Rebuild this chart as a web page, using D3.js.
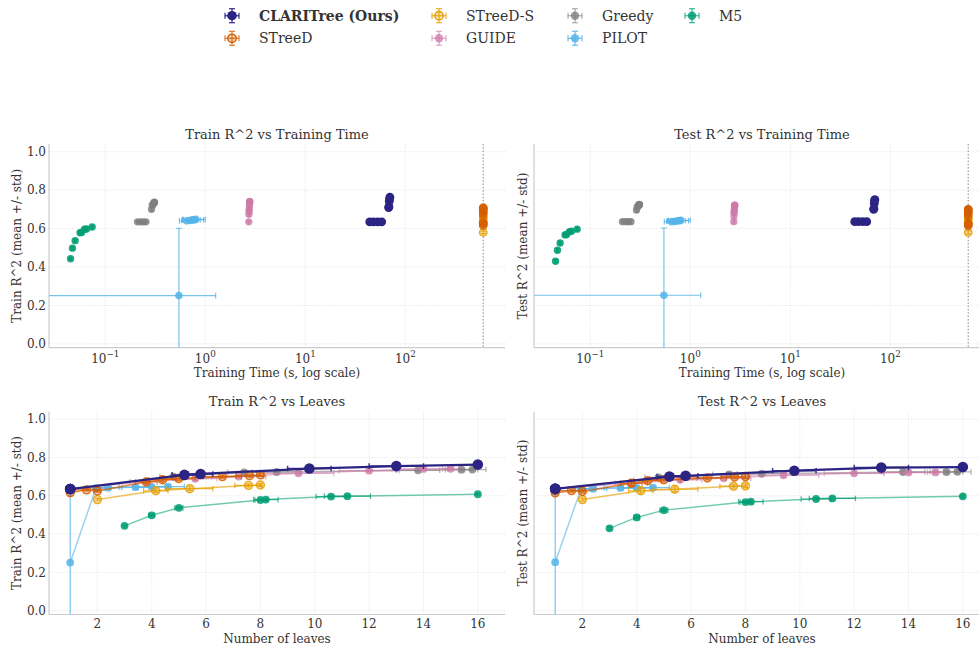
<!DOCTYPE html>
<html>
<head>
<meta charset="utf-8">
<script src="https://cdn.jsdelivr.net/npm/d3@7"></script>
<style>
  body { margin: 0; background: #fff; }
  svg { display: block; }
  text { font-family: "DejaVu Serif", serif; fill: #333; }
</style>
</head>
<body>
<svg id="chart" width="979" height="650"></svg>
<script>
// Row layout: [leaves, leavesStd, timeSec, timeStd, trainR2, trainStd, testR2, testStd]
const clariTree = [
  [1, 0, 44, 1.5, 0.635, 0.004, 0.636, 0.006],
  [1, 0, 48, 1.5, 0.635, 0.004, 0.636, 0.006],
  [1, 0, 53, 1.5, 0.635, 0.004, 0.636, 0.006],
  [1, 0, 58, 1.5, 0.635, 0.004, 0.636, 0.006],
  [5.2, 0.45, 68, 1.5, 0.709, 0.008, 0.700, 0.010],
  [5.8, 0.45, 68.5, 1.5, 0.714, 0.008, 0.704, 0.010],
  [9.8, 0.8, 69, 1.5, 0.742, 0.006, 0.731, 0.010],
  [13.0, 1.0, 69.5, 1.5, 0.755, 0.006, 0.747, 0.008],
  [16, 0, 70, 1.5, 0.763, 0.005, 0.750, 0.008]
];
const streeD = [
  [1, 0, 600, 0, 0.616, 0.005, 0.615, 0.008],
  [1.6, 0.5, 600, 0, 0.631, 0.006, 0.627, 0.008],
  [2, 0, 600, 0, 0.625, 0.006, 0.622, 0.008],
  [3.8, 0.4, 600, 0, 0.672, 0.010, 0.665, 0.012],
  [4.4, 0.5, 600, 0, 0.684, 0.010, 0.679, 0.012],
  [5.0, 0.6, 600, 0, 0.690, 0.010, 0.684, 0.012],
  [6.6, 0.7, 600, 0, 0.700, 0.008, 0.693, 0.010],
  [7.6, 0.5, 600, 0, 0.705, 0.008, 0.698, 0.010],
  [8, 0, 600, 0, 0.709, 0.008, 0.700, 0.010]
];
const streeDS = [
  [2, 0, 600, 0, 0.580, 0.006, 0.580, 0.008],
  [4.15, 0.45, 600, 0, 0.626, 0.010, 0.626, 0.012],
  [5.4, 0.85, 600, 0, 0.637, 0.010, 0.634, 0.012],
  [7.56, 0.5, 600, 0, 0.654, 0.008, 0.650, 0.010],
  [8, 0, 600, 0, 0.656, 0.008, 0.652, 0.010]
];
const guide = [
  [1, 0, 2.72, 0.04, 0.635, 0.004, 0.636, 0.006],
  [3.8, 0.6, 2.73, 0.04, 0.674, 0.010, 0.665, 0.012],
  [5.6, 0.8, 2.74, 0.04, 0.689, 0.010, 0.683, 0.012],
  [7.2, 1.0, 2.75, 0.04, 0.700, 0.008, 0.691, 0.010],
  [9.4, 1.3, 2.76, 0.04, 0.717, 0.008, 0.707, 0.010],
  [12.0, 1.1, 2.77, 0.04, 0.731, 0.006, 0.717, 0.008],
  [14.0, 0.9, 2.78, 0.04, 0.740, 0.006, 0.722, 0.008],
  [15.0, 0.3, 2.78, 0.04, 0.741, 0.006, 0.722, 0.008]
];
const greedy = [
  [1, 0, 0.21, 0.004, 0.635, 0.004, 0.636, 0.006],
  [1, 0, 0.225, 0.004, 0.635, 0.004, 0.636, 0.006],
  [1, 0, 0.24, 0.004, 0.635, 0.004, 0.636, 0.006],
  [1, 0, 0.255, 0.004, 0.635, 0.004, 0.636, 0.006],
  [4.8, 0.5, 0.29, 0.005, 0.700, 0.008, 0.696, 0.010],
  [7.4, 0.6, 0.295, 0.005, 0.722, 0.008, 0.712, 0.010],
  [8.6, 0.9, 0.30, 0.005, 0.724, 0.008, 0.715, 0.010],
  [13.8, 0.8, 0.305, 0.005, 0.733, 0.006, 0.724, 0.008],
  [15.4, 0.6, 0.31, 0.005, 0.736, 0.006, 0.724, 0.008],
  [15.8, 0.5, 0.31, 0.005, 0.737, 0.006, 0.725, 0.008]
];
const pilot = [
  [1, 0, 0.545, 0.725, 0.251, 0.35, 0.253, 0.35],
  [1.95, 0.3, 0.65, 0.10, 0.640, 0.006, 0.636, 0.008],
  [2.4, 0.5, 0.70, 0.12, 0.642, 0.006, 0.637, 0.008],
  [3.4, 0.6, 0.74, 0.15, 0.645, 0.006, 0.641, 0.008],
  [4.0, 0.5, 0.78, 0.18, 0.646, 0.006, 0.641, 0.008],
  [4.6, 0.6, 0.80, 0.20, 0.648, 0.006, 0.643, 0.008]
];
const m5 = [
  [3, 0, 0.045, 0.001, 0.443, 0.005, 0.430, 0.008],
  [4, 0.1, 0.047, 0.001, 0.498, 0.006, 0.487, 0.008],
  [5, 0.15, 0.050, 0.001, 0.537, 0.006, 0.525, 0.008],
  [8, 0.2, 0.056, 0.001, 0.578, 0.006, 0.567, 0.008],
  [8.2, 0.45, 0.058, 0.001, 0.580, 0.006, 0.569, 0.008],
  [10.6, 0.55, 0.062, 0.001, 0.596, 0.006, 0.583, 0.008],
  [11.2, 0.85, 0.065, 0.001, 0.598, 0.006, 0.586, 0.008],
  [16, 0, 0.074, 0.001, 0.608, 0.005, 0.597, 0.008]
];

const methodNames = ["CLARITree (Ours)", "STreeD", "STreeD-S", "GUIDE", "Greedy", "PILOT", "M5"];
const methodRows = [clariTree, streeD, streeDS, guide, greedy, pilot, m5];
const timeoutSec = 600;
const yTicks = [0, 0.2, 0.4, 0.6, 0.8, 1.0];
const leafTicks = [2, 4, 6, 8, 10, 12, 14, 16];
const timeTicks = [0.1, 1, 10, 100];
const timeTickExp = ["\u22121", "0", "1", "2"];

// Per-method drawing style
const styles = {
  "CLARITree (Ours)": { color: "#2c2483", r: 4.4, rBig: 5.3, fillOp: 1, lineOp: 1, lineW: 2.3, errOp: 0.9, bold: true },
  "STreeD":   { color: "#d55e00", r: 3.7, rBig: 4.0, fillOp: 0.35, strokeOnly: true, lineOp: 0.75, lineW: 1.6, errOp: 0.75 },
  "STreeD-S": { color: "#e69f00", r: 3.7, rBig: 4.0, fillOp: 0.35, strokeOnly: true, lineOp: 0.65, lineW: 1.5, errOp: 0.75 },
  "GUIDE":    { color: "#cc79a7", r: 3.7, rBig: 3.9, fillOp: 0.75, lineOp: 0.55, lineW: 1.5, errOp: 0.6 },
  "Greedy":   { color: "#7f7f7f", r: 3.7, rBig: 3.9, fillOp: 0.8, lineOp: 0.55, lineW: 1.5, errOp: 0.6 },
  "PILOT":    { color: "#56b4e9", r: 3.8, rBig: 3.9, fillOp: 0.85, lineOp: 0.6, lineW: 1.5, errOp: 0.8 },
  "M5":       { color: "#009e73", r: 3.7, rBig: 3.9, fillOp: 0.85, lineOp: 0.55, lineW: 1.5, errOp: 0.7 }
};

const svg = d3.select("#chart");
svg.append("rect").attr("width", 979).attr("height", 650).attr("fill", "#fff");

const yDomain = [-0.02, 1.04];
const panels = [
  { x0: 49,  x1: 505, y0: 144,   y1: 347.7, kind: "time",   metric: 4, title: "Train R^2 vs Training Time", ylab: "Train R^2 (mean +/- std)", showY: true },
  { x0: 534, x1: 990, y0: 144,   y1: 347.7, kind: "time",   metric: 6, title: "Test R^2 vs Training Time",  ylab: "Test R^2 (mean +/- std)",  showY: false },
  { x0: 49,  x1: 505, y0: 411.5, y1: 614.5, kind: "leaves", metric: 4, title: "Train R^2 vs Leaves",        ylab: "Train R^2 (mean +/- std)", showY: true },
  { x0: 534, x1: 990, y0: 411.5, y1: 614.5, kind: "leaves", metric: 6, title: "Test R^2 vs Leaves",         ylab: "Test R^2 (mean +/- std)",  showY: false }
];

const defs = svg.append("defs");
const CAP = 2.8;
const TICK_FONT = "12px";

panels.forEach((p, pi) => {
  const x = p.kind === "time"
    ? d3.scaleLog().domain([0.0274, 990]).range([p.x0, p.x1])
    : d3.scaleLinear().domain([0.22, 17.0]).range([p.x0, p.x1]);
  const y = d3.scaleLinear().domain(yDomain).range([p.y1, p.y0]);
  const g = svg.append("g");

  defs.append("clipPath").attr("id", "clip" + pi)
    .append("rect").attr("x", p.x0).attr("y", p.y0)
    .attr("width", p.x1 - p.x0).attr("height", p.y1 - p.y0);

  // grid
  const grid = g.append("g").attr("stroke", "#dcdcdc").attr("stroke-width", 0.8)
    .attr("stroke-dasharray", "1,1.6");
  yTicks.forEach(t => grid.append("line").attr("x1", p.x0).attr("x2", p.x1)
    .attr("y1", y(t)).attr("y2", y(t)));
  const xt = p.kind === "time" ? timeTicks : leafTicks;
  xt.forEach(t => grid.append("line").attr("x1", x(t)).attr("x2", x(t))
    .attr("y1", p.y0).attr("y2", p.y1));

  // spines
  g.append("line").attr("x1", p.x0).attr("x2", p.x0).attr("y1", p.y0).attr("y2", p.y1)
    .attr("stroke", "#cccccc").attr("stroke-width", 1.2);
  g.append("line").attr("x1", p.x0).attr("x2", p.x1).attr("y1", p.y1).attr("y2", p.y1)
    .attr("stroke", "#cccccc").attr("stroke-width", 1.2);

  // y tick labels
  if (p.showY) {
    yTicks.forEach(t => g.append("text").attr("x", p.x0 - 3).attr("y", y(t)).attr("dy", "0.36em")
      .attr("text-anchor", "end").style("font-size", TICK_FONT).text(d3.format(".1f")(t)));
  }
  // x tick labels
  if (p.kind === "time") {
    timeTicks.forEach((t, i) => {
      const tx = g.append("text").attr("x", x(t)).attr("y", p.y1 + 15)
        .attr("text-anchor", "middle").style("font-size", TICK_FONT);
      tx.append("tspan").text("10");
      tx.append("tspan").attr("dy", -5.5).style("font-size", "8.8px").text(timeTickExp[i]);
    });
  } else {
    leafTicks.forEach(t => g.append("text").attr("x", x(t)).attr("y", p.y1 + 13.5)
      .attr("text-anchor", "middle").style("font-size", TICK_FONT).text(t));
  }
  // axis labels and title
  const cx = (p.x0 + p.x1) / 2;
  g.append("text").attr("x", cx).attr("y", p.y0 - 5.5).attr("text-anchor", "middle")
    .style("font-size", "13px").text(p.title);
  g.append("text").attr("x", cx).attr("y", p.kind === "time" ? p.y1 + 29.5 : p.y1 + 28.5)
    .attr("text-anchor", "middle").style("font-size", "12px")
    .text(p.kind === "time" ? "Training Time (s, log scale)" : "Number of leaves");
  const ylx = p.showY ? 16.7 : p.x0 - 11.5;
  g.append("text").attr("transform", `translate(${ylx},${(p.y0 + p.y1) / 2}) rotate(-90)`)
    .attr("dy", "0.36em").attr("text-anchor", "middle").style("font-size", "12px").text(p.ylab);

  const plot = g.append("g").attr("clip-path", `url(#clip${pi})`);

  if (p.kind === "time") {
    plot.append("line").attr("x1", x(timeoutSec)).attr("x2", x(timeoutSec))
      .attr("y1", p.y0).attr("y2", p.y1).attr("stroke", "#9a9a9a")
      .attr("stroke-width", 1.2).attr("stroke-dasharray", "1.5,1.8");
  }

  const xMin = x.domain()[0];
  // draw from last to first so the highlighted method sits on top
  for (let mi = methodNames.length - 1; mi >= 0; mi--) {
    const st = styles[methodNames[mi]];
    const rows = methodRows[mi];
    const mg = plot.append("g");
    const xv = d => p.kind === "time" ? d[2] : d[0];
    const xs = d => p.kind === "time" ? d[3] : d[1];
    const yv = d => d[p.metric];
    const ys = d => d[p.metric + 1];
    const rad = p.kind === "time" ? st.r : st.rBig;

    if (p.kind === "leaves") {
      const sorted = rows.slice().sort((a, b) => a[0] - b[0]);
      mg.append("path").attr("d", d3.line().x(d => x(d[0])).y(d => y(yv(d)))(sorted))
        .attr("fill", "none").attr("stroke", st.color).attr("stroke-opacity", st.lineOp)
        .attr("stroke-width", st.lineW);
    }
    const eg = mg.append("g").attr("stroke", st.color).attr("stroke-opacity", st.errOp)
      .attr("stroke-width", mi === 0 ? 1.5 : 1.2);
    rows.forEach(d => {
      const px = x(xv(d)), py = y(yv(d));
      if (xs(d) > 0) {
        const lo = Math.max(xv(d) - xs(d), xMin * 0.5);
        const xl = x(lo), xr = x(xv(d) + xs(d));
        eg.append("line").attr("x1", xl).attr("x2", xr).attr("y1", py).attr("y2", py);
        eg.append("line").attr("x1", xl).attr("x2", xl).attr("y1", py - CAP).attr("y2", py + CAP);
        eg.append("line").attr("x1", xr).attr("x2", xr).attr("y1", py - CAP).attr("y2", py + CAP);
      }
      if (ys(d) > 0) {
        const yt = y(yv(d) + ys(d)), yb = y(yv(d) - ys(d));
        eg.append("line").attr("x1", px).attr("x2", px).attr("y1", yt).attr("y2", yb);
        eg.append("line").attr("x1", px - CAP).attr("x2", px + CAP).attr("y1", yt).attr("y2", yt);
        eg.append("line").attr("x1", px - CAP).attr("x2", px + CAP).attr("y1", yb).attr("y2", yb);
      }
    });
    mg.selectAll("circle").data(rows).join("circle")
      .attr("cx", d => x(xv(d))).attr("cy", d => y(yv(d))).attr("r", rad)
      .attr("fill", st.color).attr("fill-opacity", st.fillOp)
      .attr("stroke", st.color).attr("stroke-opacity", st.strokeOnly ? 0.85 : 0)
      .attr("stroke-width", st.strokeOnly ? 1.4 : 0);
  }
});

// legend: four columns, filled column by column
const legendPos = [[232, 15.7], [232, 38.3], [439, 15.7], [439, 38.3], [575, 15.7], [575, 38.3], [692, 15.7]];
const lg = svg.append("g");
methodNames.forEach((name, i) => {
  const st = styles[name];
  const [mx, my] = legendPos[i];
  const ig = lg.append("g").attr("stroke", st.color).attr("stroke-opacity", st.errOp).attr("stroke-width", 1.3);
  ig.append("line").attr("x1", mx - 7).attr("x2", mx + 7).attr("y1", my).attr("y2", my);
  ig.append("line").attr("x1", mx - 7).attr("x2", mx - 7).attr("y1", my - 3).attr("y2", my + 3);
  ig.append("line").attr("x1", mx + 7).attr("x2", mx + 7).attr("y1", my - 3).attr("y2", my + 3);
  ig.append("line").attr("x1", mx).attr("x2", mx).attr("y1", my - 7).attr("y2", my + 7);
  ig.append("line").attr("x1", mx - 3).attr("x2", mx + 3).attr("y1", my - 7).attr("y2", my - 7);
  ig.append("line").attr("x1", mx - 3).attr("x2", mx + 3).attr("y1", my + 7).attr("y2", my + 7);
  lg.append("circle").attr("cx", mx).attr("cy", my).attr("r", i === 0 ? 4.8 : 4.2)
    .attr("fill", st.color).attr("fill-opacity", st.strokeOnly ? 0.3 : st.fillOp)
    .attr("stroke", st.color).attr("stroke-width", st.strokeOnly ? 1.4 : 0);
  lg.append("text").attr("x", mx + 27).attr("y", my).attr("dy", "0.36em")
    .style("font-size", "14px").style("font-weight", st.bold ? "bold" : "normal").text(name);
});
</script>
</body>
</html>
